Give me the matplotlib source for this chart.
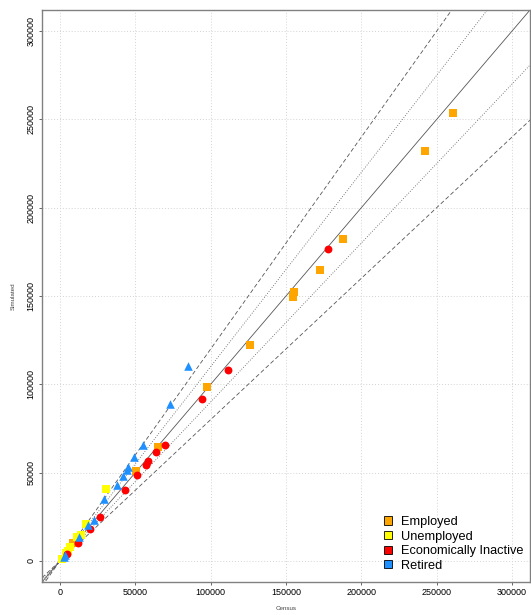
import matplotlib.pyplot as plt
import numpy as np
from matplotlib.patches import Patch

plt.rcParams['font.family'] = ['Liberation Sans', 'DejaVu Sans']

# Census vs simulated counts
emp_census = [260700, 242600, 187600, 172800, 155600, 154500, 126300, 97800, 64700, 50500, 8400]
emp_sim = [253500, 232000, 182500, 164600, 152000, 149300, 122400, 98500, 64600, 50800, 10000]

unemp_census = [30500, 17200, 13900, 11000, 6800, 5500, 4000, 1200]
unemp_sim = [40900, 20700, 14700, 13700, 7700, 5300, 4700, 1200]

inact_census = [177900, 111700, 94000, 69500, 63800, 58100, 56900, 50800, 43000, 26700, 20100, 11700, 4600]
inact_sim = [176500, 107900, 91500, 65700, 61600, 56300, 54200, 48400, 40100, 24700, 18100, 10300, 3800]

ret_census = [85000, 73300, 54800, 49400, 44800, 44400, 41900, 37500, 29400, 22700, 18500, 12800, 3300, 2400]
ret_sim = [110500, 88900, 65500, 58900, 52900, 51400, 48000, 42800, 35000, 23000, 20300, 13700, 3400, 2400]

labels = ['Employed', 'Unemployed', 'Economically Inactive', 'Retired']
colors = ['#FFA500', '#FFFF00', '#FF0000', '#1E90FF']

ticks = [0, 50000, 100000, 150000, 200000, 250000, 300000]

fig = plt.figure(figsize=(5.31, 6.15), dpi=100)
ax = fig.add_axes([42/531, 1 - 582/615, 488/531, 572/615])

lo, hi = -12000, 312000
ax.set_xlim(lo, hi)
ax.set_ylim(lo, hi)

# grid
for t in ticks:
    ax.axvline(t, color='#D3D3D3', lw=0.7, ls=(0, (1, 2)), zorder=0)
    ax.axhline(t, color='#D3D3D3', lw=0.7, ls=(0, (1, 2)), zorder=0)

# reference lines
xx = np.array([lo, hi])
ax.plot(xx, xx, color='#555555', lw=0.6, zorder=1)
for k in (1.1, 0.9):
    ax.plot(xx, k * xx, color='#555555', lw=0.6, ls=(0, (1, 2)), zorder=1)
for k in (1.2, 0.8):
    ax.plot(xx, k * xx, color='#555555', lw=0.6, ls=(0, (5, 3)), zorder=1)

ax.scatter(emp_census, emp_sim, marker='s', s=28, color=colors[0], lw=0, zorder=3)
ax.scatter(unemp_census, unemp_sim, marker='s', s=30, color=colors[1], lw=0, zorder=3)
ax.scatter(inact_census, inact_sim, marker='o', s=32, color=colors[2], lw=0, zorder=3)
ax.scatter(ret_census, ret_sim, marker='^', s=38, color=colors[3], lw=0, zorder=3)

ax.set_xticks(ticks)
ax.set_yticks(ticks)
ax.set_xticklabels([str(t) for t in ticks], fontsize=6.5)
ax.set_yticklabels([str(t) for t in ticks], fontsize=6.5, rotation=90, va='center')
ax.tick_params(axis='both', length=2.5, width=0.7, color='#666666', pad=2)
for s in ax.spines.values():
    s.set_color('#808080')
    s.set_linewidth(1.0)

fig.text(286/531, 1 - 609/615, 'Census', fontsize=4.5, color='#444444', ha='center', va='center')
fig.text(13/531, 1 - 296/615, 'Simulated', fontsize=4.5, color='#444444', ha='center', va='center',
         rotation=90)

handles = [Patch(facecolor=c, edgecolor='black', lw=0.6) for c in colors]
fig.legend(handles, labels, loc='upper left', bbox_to_anchor=(384/531, 1 - 516/615),
           frameon=False, fontsize=9.2, borderpad=0, borderaxespad=0, labelspacing=0.2,
           handlelength=0.6, handleheight=0.6, handletextpad=0.7)

fig.savefig('out.png', dpi=100)
